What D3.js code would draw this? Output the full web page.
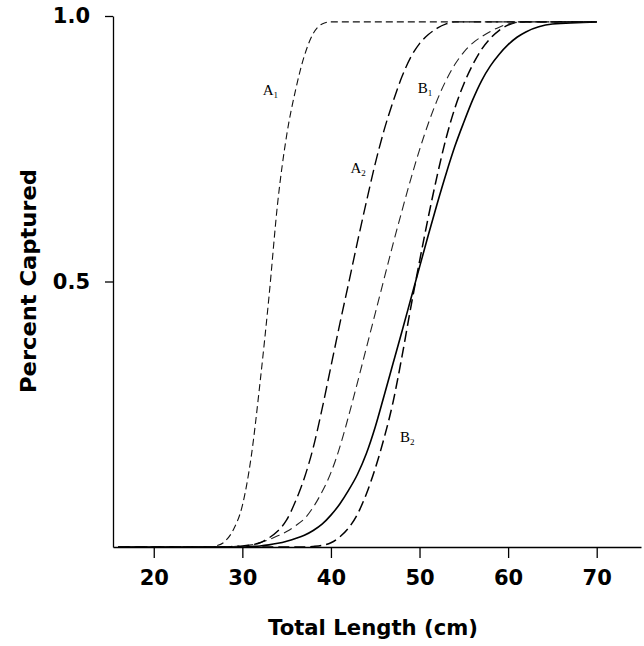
<!DOCTYPE html>
<html><head><meta charset="utf-8">
<script src="https://cdn.jsdelivr.net/npm/d3@7/dist/d3.min.js"></script>
<style>body{margin:0;background:#fff}</style>
</head><body>
<script>
// Total length (cm) at which curves were read
const lengths = [16,20,25,26,27,28,29,30,31,32,33,34,35,36,37,38,39,40,41,42,43,44,45,46,47,48,49,50,51,52,53,54,55,56,57,58,59,60,61,62,65,70];
// Proportion captured for each curve
const curveA1 = [0,0,0,0,0.002,0.01,0.033,0.078,0.17,0.31,0.47,0.65,0.775,0.86,0.925,0.967,0.985,0.989,0.989,0.989,0.989,0.989,0.989,0.989,0.989,0.989,0.989,0.989,0.989,0.989,0.989,0.989,0.989,0.989,0.989,0.989,0.989,0.989,0.989,0.989,0.989,0.989];
const curveA2 = [0,0,0,0,0,0,0.001,0.002,0.004,0.008,0.017,0.03,0.051,0.086,0.13,0.187,0.26,0.34,0.42,0.497,0.575,0.65,0.722,0.785,0.838,0.885,0.922,0.948,0.965,0.977,0.985,0.989,0.989,0.989,0.989,0.989,0.989,0.989,0.989,0.989,0.989,0.989];
const curveB1 = [0,0,0,0,0,0,0.001,0.002,0.004,0.008,0.014,0.021,0.029,0.04,0.053,0.075,0.104,0.14,0.188,0.247,0.31,0.375,0.44,0.505,0.57,0.632,0.692,0.748,0.798,0.842,0.879,0.909,0.932,0.949,0.961,0.971,0.979,0.985,0.988,0.989,0.989,0.989];
const curveSolid = [0,0,0,0,0,0,0,0,0.001,0.002,0.004,0.007,0.011,0.016,0.022,0.031,0.043,0.06,0.081,0.107,0.137,0.176,0.226,0.285,0.345,0.405,0.466,0.527,0.588,0.647,0.703,0.755,0.8,0.842,0.878,0.906,0.928,0.946,0.96,0.97,0.985,0.989];
const curveB2 = [0,0,0,0,0,0,0,0,0,0,0,0,0,0,0,0.001,0.003,0.008,0.019,0.036,0.062,0.1,0.148,0.205,0.272,0.357,0.45,0.538,0.622,0.7,0.77,0.827,0.872,0.908,0.937,0.958,0.973,0.983,0.988,0.989,0.989,0.989];
const xTicks = [20,30,40,50,60,70];
const yTicks = [0.5,1.0];
// curve labels: main letter, subscript, and anchor in data units [length, proportion]
const labelNames = ["A","A","B","B"];
const labelSubs = ["1","2","1","2"];
const labelAt = [[32.3,0.851],[42.2,0.704],[49.8,0.855],[47.8,0.198]];

const W=644,H=646;
const svg=d3.select("body").append("svg").attr("width",W).attr("height",H);
svg.append("rect").attr("width",W).attr("height",H).attr("fill","#fff");
const x=d3.scaleLinear().domain([15.4,75]).range([113,641]);
const y=d3.scaleLinear().domain([0,1]).range([547,16]);

const series=[
  {v:curveSolid, dash:null, w:1.6, c:"#000"},
  {v:curveB2, dash:"11,5", w:1.5, c:"#000"},
  {v:curveB1, dash:"9,5", w:1.1, c:"#222"},
  {v:curveA2, dash:"12,5", w:1.4, c:"#000"},
  {v:curveA1, dash:"7,4", w:1.1, c:"#111"}
];
const line=d3.line().x(d=>x(d[0])).y(d=>y(d[1])).curve(d3.curveMonotoneX);
series.forEach(s=>{
  svg.append("path").datum(lengths.map((l,i)=>[l,s.v[i]]))
    .attr("d",line).attr("fill","none").attr("stroke",s.c)
    .attr("stroke-width",s.w).attr("stroke-dasharray",s.dash);
});

const gx=svg.append("g").attr("transform","translate(0,547)")
  .call(d3.axisBottom(x).tickValues(xTicks).tickSize(11).tickSizeOuter(0).tickPadding(12).tickFormat(d3.format("d")));
gx.attr("font-family","DejaVu Sans").attr("font-size",21).attr("font-weight","bold");
gx.select(".domain").attr("stroke-width",1.6);
gx.selectAll(".tick line").attr("stroke-width",1.3);

const gy=svg.append("g").attr("transform","translate(113,0)")
  .call(d3.axisLeft(y).tickValues(yTicks).tickSize(8).tickSizeOuter(0).tickPadding(15).tickFormat(d3.format(".1f")));
gy.attr("font-family","DejaVu Sans").attr("font-size",21).attr("font-weight","bold");
gy.select(".domain").attr("stroke-width",1.3);
gy.selectAll(".tick line").attr("stroke-width",1.3);

svg.append("text").attr("x",373).attr("y",635).attr("text-anchor","middle")
  .attr("font-family","DejaVu Sans").attr("font-weight","bold").attr("font-size",21)
  .attr("textLength",210).attr("lengthAdjust","spacingAndGlyphs")
  .text("Total Length (cm)");
svg.append("text").attr("transform","translate(36,281) rotate(-90)").attr("text-anchor","middle")
  .attr("font-family","DejaVu Sans").attr("font-weight","bold").attr("font-size",22)
  .attr("textLength",224).attr("lengthAdjust","spacingAndGlyphs")
  .text("Percent Captured");

labelAt.forEach((p,i)=>{
  const t=svg.append("text").attr("x",x(p[0])).attr("y",y(p[1]))
    .attr("font-family","Liberation Serif").attr("font-size",15).attr("fill","#000");
  t.append("tspan").text(labelNames[i]);
  t.append("tspan").attr("font-size",9).attr("dy",3).text(labelSubs[i]);
});
</script>
</body></html>
